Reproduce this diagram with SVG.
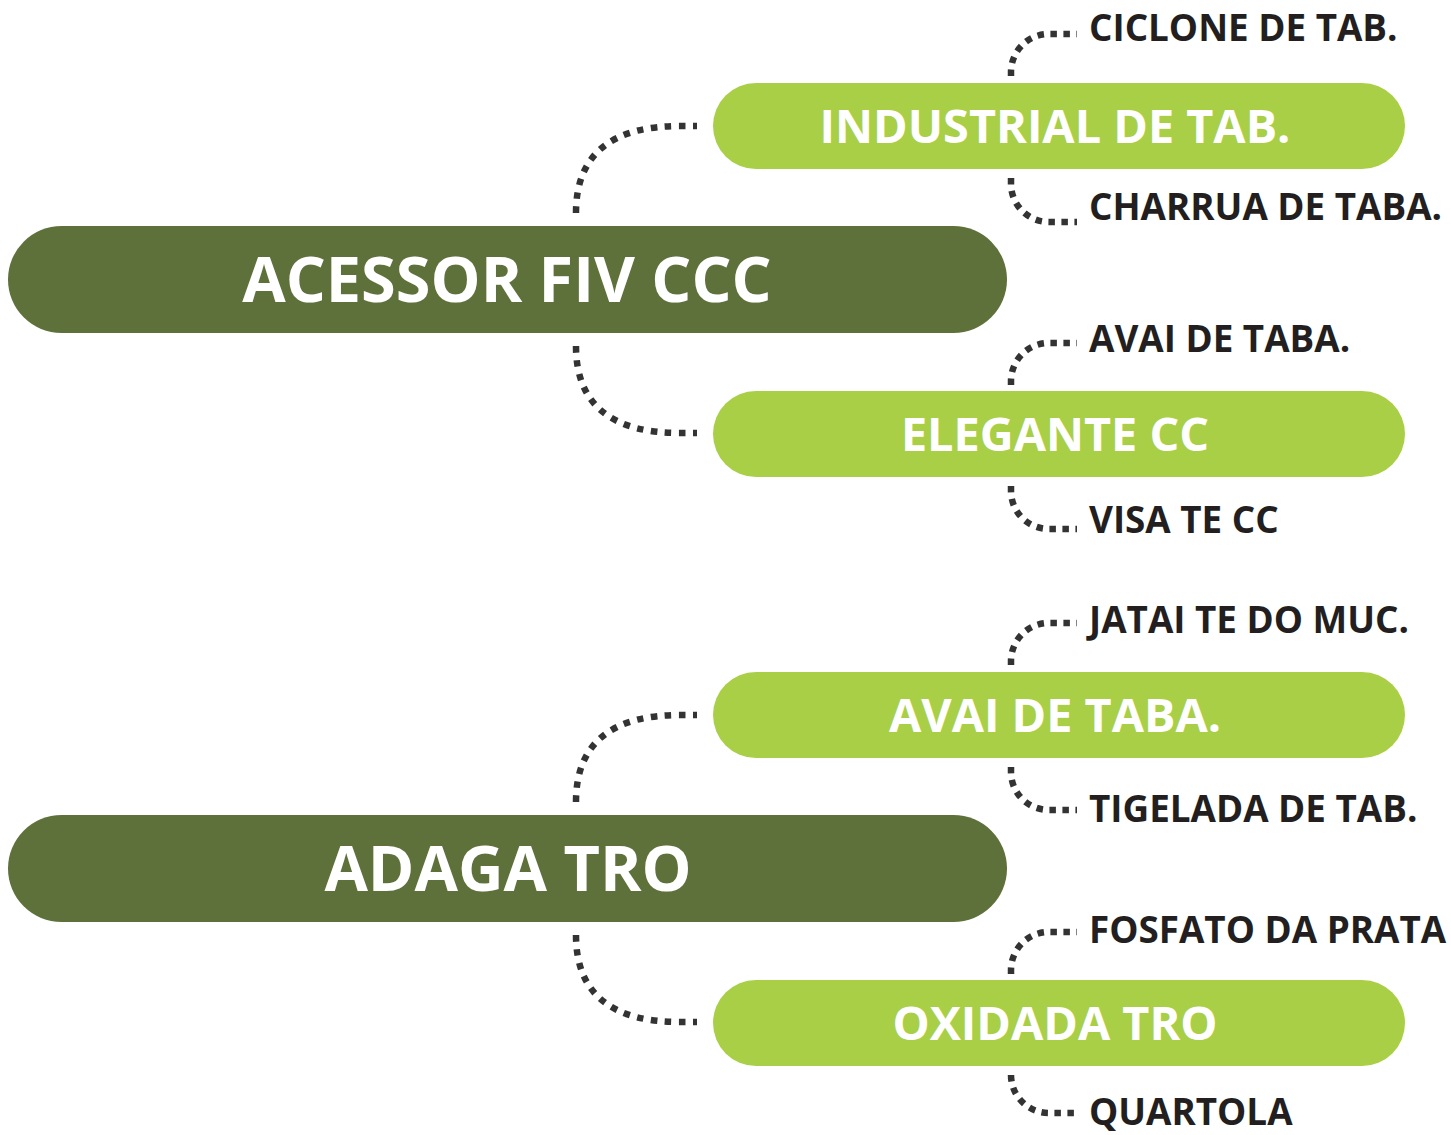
<svg xmlns="http://www.w3.org/2000/svg" width="1451" height="1135" viewBox="0 0 1451 1135">
<style>
.main rect{fill:#5E713B}
.sub rect{fill:#A9CF46}
.main text{font-family:"Open Sans","Liberation Sans",sans-serif;font-weight:700;font-size:63px;fill:#fff;text-anchor:middle}
.sub text{font-family:"Open Sans","Liberation Sans",sans-serif;font-weight:700;font-size:46.8px;fill:#fff;text-anchor:middle}
.leaf text{font-family:"Open Sans","Liberation Sans",sans-serif;font-weight:700;font-size:36.8px;fill:#231F20}
.big{fill:none;stroke:#333;stroke-width:6.5;stroke-dasharray:6.5 7.5}
.small{fill:none;stroke:#333;stroke-width:6.5;stroke-dasharray:6.5 6.5}
</style>
<rect width="1451" height="1135" fill="#fff"/>
<g id="connectors">
<path class="big" d="M576,213 Q576,126 680,126 L697,126"/>
<path class="big" d="M576,346 Q576,433 680,433 L697,433"/>
<path class="big" d="M576,802 Q576,715 680,715 L697,715"/>
<path class="big" d="M576,935 Q576,1022 680,1022 L697,1022"/>
<path class="small" d="M1011,76 L1011,72 A38,38 0 0 1 1049,34 L1077,34"/>
<path class="small" d="M1011,178 L1011,184 A38,38 0 0 0 1049,222 L1077,222"/>
<path class="small" d="M1011,385 L1011,381 A38,38 0 0 1 1049,343 L1077,343"/>
<path class="small" d="M1011,486 L1011,491 A38,38 0 0 0 1049,529 L1077,529"/>
<path class="small" d="M1011,665 L1011,661 A38,38 0 0 1 1049,623 L1077,623"/>
<path class="small" d="M1011,767 L1011,772 A38,38 0 0 0 1049,810 L1077,810"/>
<path class="small" d="M1011,974 L1011,970 A38,38 0 0 1 1049,932 L1077,932"/>
<path class="small" d="M1011,1075 L1011,1075 A38,38 0 0 0 1049,1113 L1077,1113"/>
</g>
<g id="node-acessor" class="main"><rect x="8" y="226" width="999" height="107" rx="53.5"/><text x="507" y="302">ACESSOR FIV CCC</text></g>
<g id="node-adaga" class="main"><rect x="8" y="815" width="999" height="107" rx="53.5"/><text x="508" y="891">ADAGA TRO</text></g>
<g id="node-industrial" class="sub"><rect x="713" y="83" width="692" height="86" rx="43"/><text x="1055" y="143">INDUSTRIAL DE TAB.</text></g>
<g id="node-elegante" class="sub"><rect x="713" y="391" width="692" height="86" rx="43"/><text x="1055" y="451">ELEGANTE CC</text></g>
<g id="node-avai" class="sub"><rect x="713" y="672" width="692" height="86" rx="43"/><text x="1055" y="732">AVAI DE TABA.</text></g>
<g id="node-oxidada" class="sub"><rect x="713" y="980" width="692" height="86" rx="43"/><text x="1055" y="1040">OXIDADA TRO</text></g>
<g id="leaf-ciclone" class="leaf"><text x="1089" y="41">CICLONE DE TAB.</text></g>
<g id="leaf-charrua" class="leaf"><text x="1089" y="220">CHARRUA DE TABA.</text></g>
<g id="leaf-avai" class="leaf"><text x="1089" y="352">AVAI DE TABA.</text></g>
<g id="leaf-visa" class="leaf"><text x="1089" y="533">VISA TE CC</text></g>
<g id="leaf-jatai" class="leaf"><text x="1089" y="633">JATAI TE DO MUC.</text></g>
<g id="leaf-tigelada" class="leaf"><text x="1089" y="822">TIGELADA DE TAB.</text></g>
<g id="leaf-fosfato" class="leaf"><text x="1089" y="943">FOSFATO DA PRATA</text></g>
<g id="leaf-quartola" class="leaf"><text x="1089" y="1125">QUARTOLA</text></g>
</svg>
